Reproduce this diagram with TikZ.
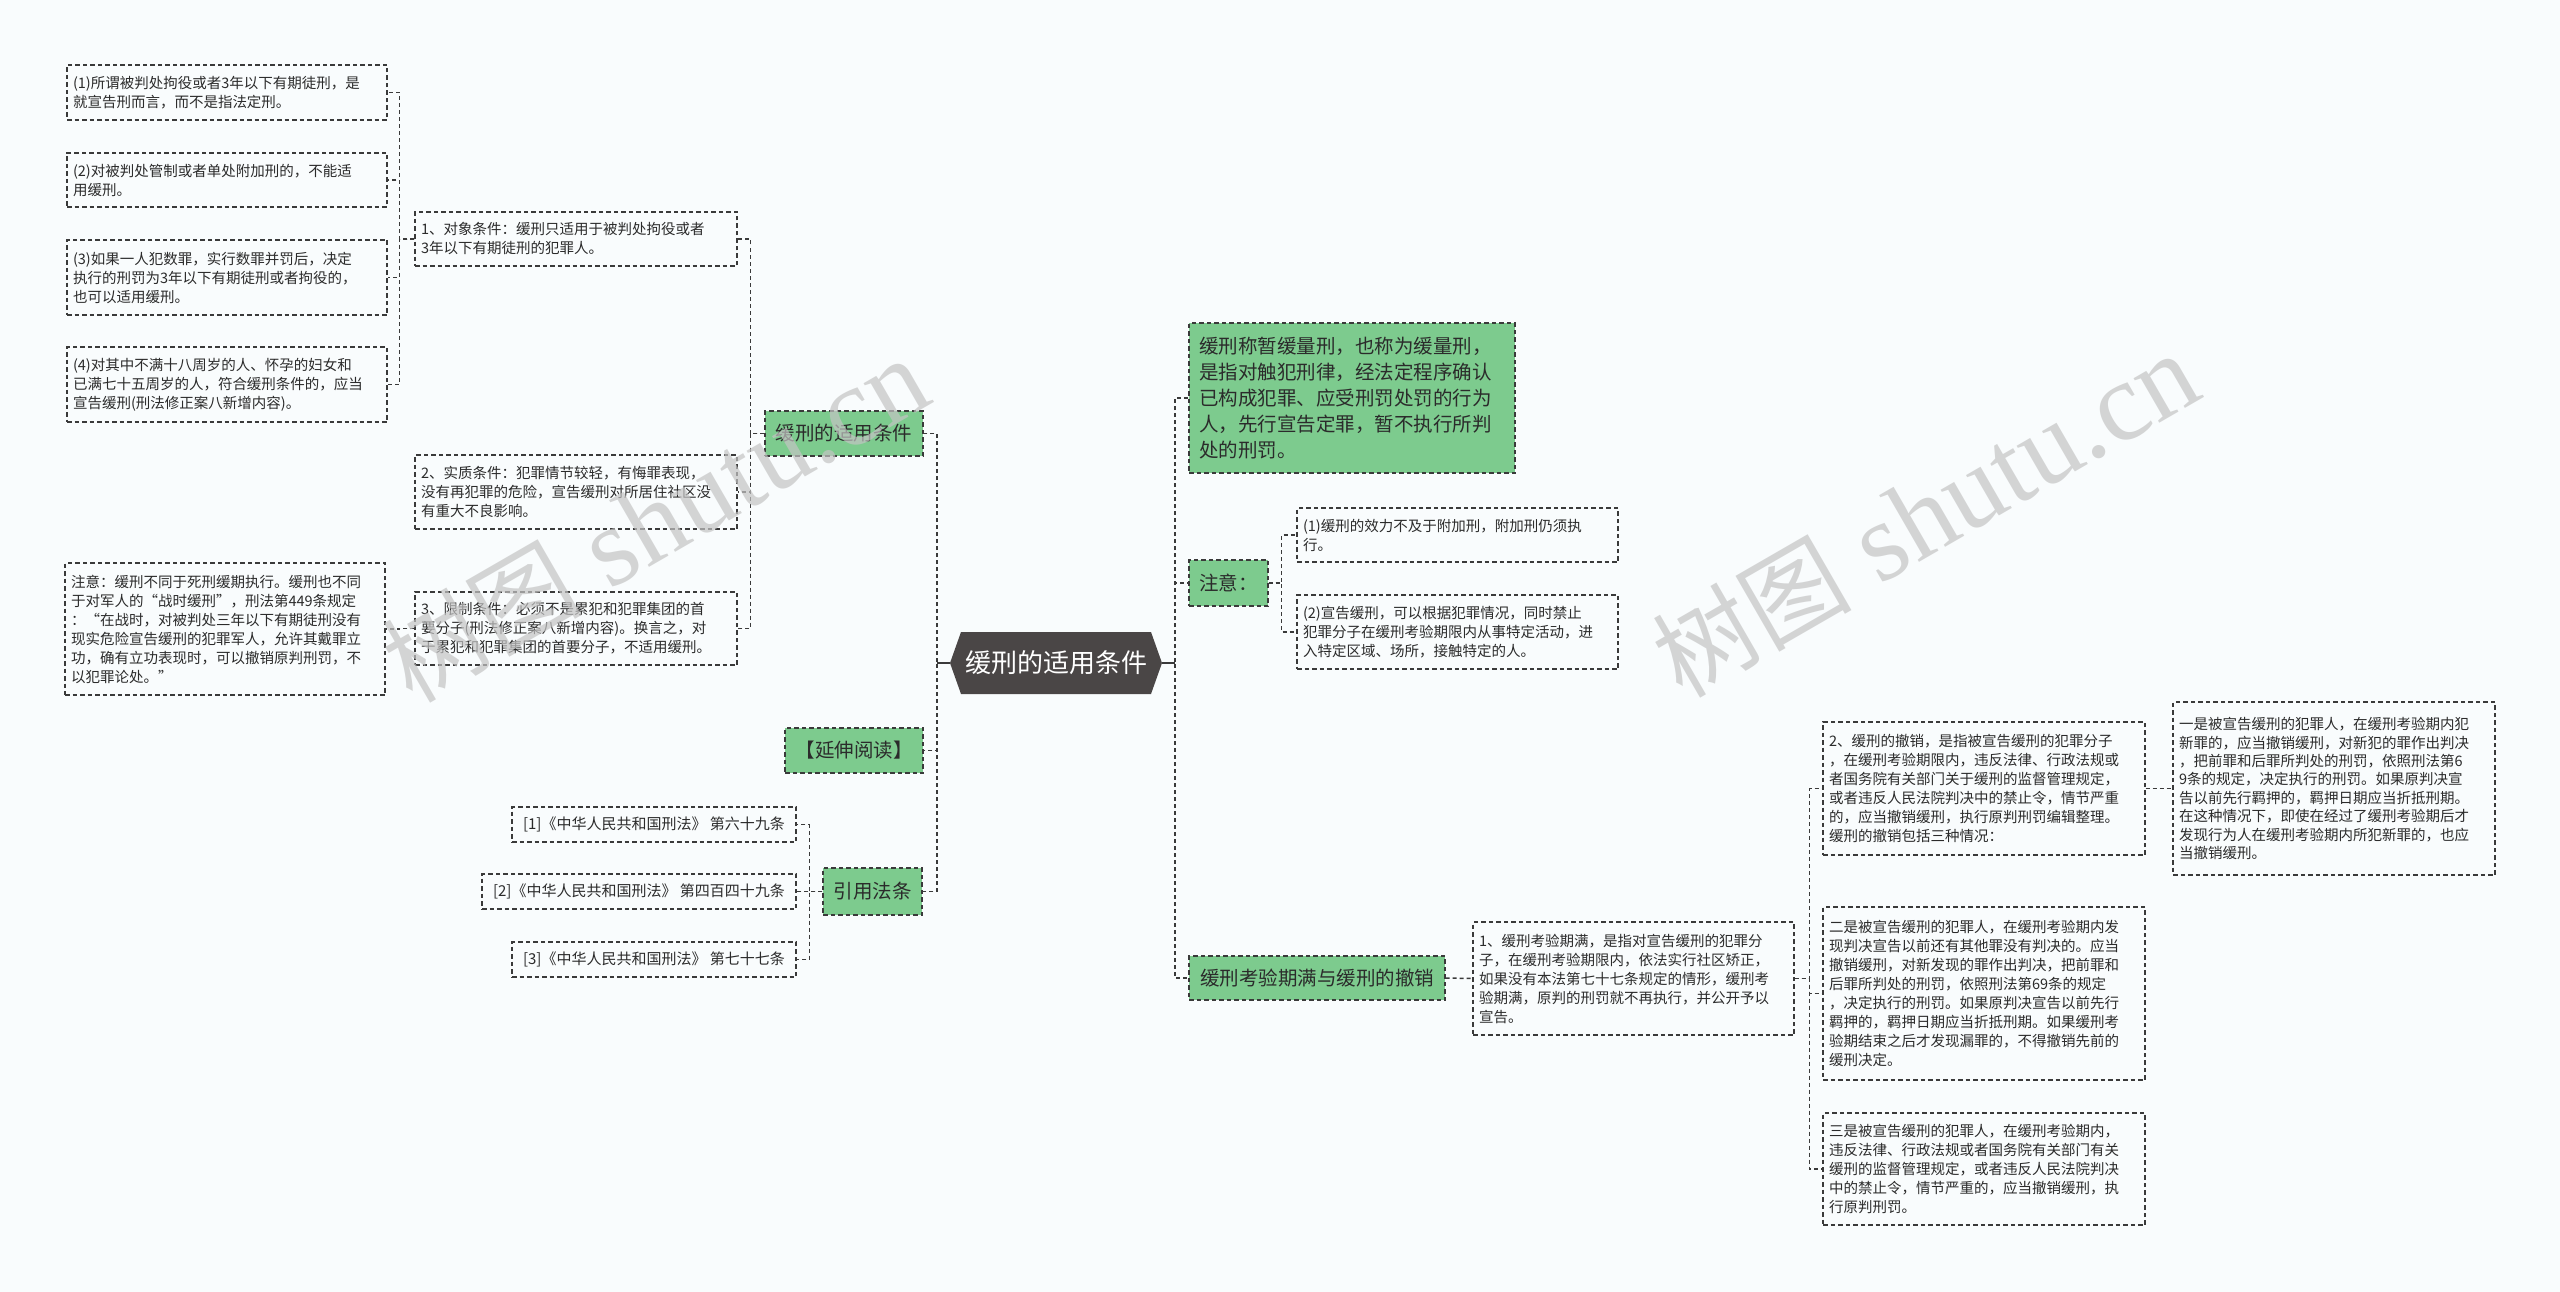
\documentclass[tikz,border=0pt]{standalone}
\usepackage{fontspec}
\newfontfamily\cjk{Noto Sans CJK SC}
\newfontfamily\wmserif{Liberation Serif}
\definecolor{bgc}{HTML}{F9FCFD}
\definecolor{grn}{HTML}{7DCB8E}
\definecolor{lnc}{HTML}{3A3A3A}
\definecolor{rootc}{HTML}{4A4646}
\definecolor{txt}{HTML}{2B2B2B}
\definecolor{wmc}{HTML}{C4C4C4}
\tikzset{
  conn/.style={draw=lnc, line width=1.5pt, dash pattern=on 4pt off 3pt},
  solidc/.style={draw=lnc, line width=1.5pt},
  box/.style={draw=lnc, line width=1.2pt, dash pattern=on 4.5pt off 3pt, rectangle,
    inner xsep=6pt, inner ysep=2pt, align=left, text=txt,
    font=\cjk\fontsize{14.5}{19}\selectfont},
  leaf/.style 2 args={box, text width=#1, minimum height=#2},
  refbox/.style 2 args={box, align=center, minimum width=#1, minimum height=#2,
    font=\cjk\fontsize{15}{19}\selectfont},
  gbox/.style 2 args={draw=lnc, fill=grn, line width=1.2pt, dash pattern=on 4.5pt off 3pt,
    rectangle, inner sep=2pt, align=center, text=txt, minimum width=#1, minimum height=#2,
    font=\cjk\fontsize{19.5}{25.8}\selectfont},
  rootnode/.style={rectangle, inner sep=0pt, minimum width=212pt, minimum height=62pt,
    text=white, font=\cjk\fontsize{26}{30}\selectfont},
  wmark/.style={rotate=30, text=wmc, opacity=0.7, inner sep=0pt}
}
\begin{document}
\begin{tikzpicture}[x=1pt, y=-1pt]
\useasboundingbox (0,0) rectangle (2560,1292);
\fill[bgc] (0,0) rectangle (2560,1292);

% root hexagon
\fill[rootc] (950,663) -- (961,632) -- (1151,632) -- (1162,663) -- (1151,694) -- (961,694) -- cycle;
\node[rootnode] (root) at (1056,663) {缓刑的适用条件};

% left first level
\node[gbox={158pt}{45pt}] (G1) at (844,433.5) {缓刑的适用条件};
\node[gbox={138pt}{45pt}] (G2) at (854,750.5) {【延伸阅读】};
\node[gbox={99pt}{47pt}] (G3) at (872.5,891.5) {引用法条};

% conditions
\node[leaf={310pt}{54pt}] (O1) at (576,239) {1、对象条件：缓刑只适用于被判处拘役或者\\3年以下有期徒刑的犯罪人。};
\node[leaf={310pt}{74pt}] (O2) at (576,492) {2、实质条件：犯罪情节较轻，有悔罪表现，\\没有再犯罪的危险，宣告缓刑对所居住社区没\\有重大不良影响。};
\node[leaf={310pt}{73pt}] (O3) at (576,628.5) {3、限制条件：必须不是累犯和犯罪集团的首\\要分子(刑法修正案八新增内容)。换言之，对\\于累犯和犯罪集团的首要分子，不适用缓刑。};

% leaves of object condition
\node[leaf={308pt}{55pt}] (L1) at (227,92.5) {(1)所谓被判处拘役或者3年以下有期徒刑，是\\就宣告刑而言，而不是指法定刑。};
\node[leaf={308pt}{54pt}] (L2) at (227,180) {(2)对被判处管制或者单处附加刑的，不能适\\用缓刑。};
\node[leaf={308pt}{75pt}] (L3) at (227,277.5) {(3)如果一人犯数罪，实行数罪并罚后，决定\\执行的刑罚为3年以下有期徒刑或者拘役的，\\也可以适用缓刑。};
\node[leaf={308pt}{75pt}] (L4) at (227,384.5) {(4)对其中不满十八周岁的人、怀孕的妇女和\\已满七十五周岁的人，符合缓刑条件的，应当\\宣告缓刑(刑法修正案八新增内容)。};

% note under restriction
\node[leaf={308pt}{132pt}] (NT) at (225,629) {注意：缓刑不同于死刑缓期执行。缓刑也不同\\于对军人的“战时缓刑”，刑法第449条规定\\：“在战时，对被判处三年以下有期徒刑没有\\现实危险宣告缓刑的犯罪军人，允许其戴罪立\\功，确有立功表现时，可以撤销原判刑罚，不\\以犯罪论处。”};

% references
\node[refbox={284pt}{35pt}] (R1) at (654,824.5) {[1]《中华人民共和国刑法》 第六十九条};
\node[refbox={314pt}{35pt}] (R2) at (639,891.5) {[2]《中华人民共和国刑法》 第四百四十九条};
\node[refbox={284pt}{35pt}] (R3) at (654,959.5) {[3]《中华人民共和国刑法》 第七十七条};

% right side
\node[gbox={326pt}{150pt}, align=left, text width=306pt, inner xsep=10pt] (D) at (1352,398) {缓刑称暂缓量刑，也称为缓量刑，\\是指对触犯刑律，经法定程序确认\\已构成犯罪、应受刑罚处罚的行为\\人，先行宣告定罪，暂不执行所判\\处的刑罚。};
\node[gbox={79pt}{46pt}] (Z) at (1228.5,583) {注意：};
\node[leaf={309pt}{54pt}] (N1) at (1457.5,535) {(1)缓刑的效力不及于附加刑，附加刑仍须执\\行。};
\node[leaf={309pt}{74pt}] (N2) at (1457.5,632) {(2)宣告缓刑，可以根据犯罪情况，同时禁止\\犯罪分子在缓刑考验期限内从事特定活动，进\\入特定区域、场所，接触特定的人。};

\node[gbox={256pt}{44pt}] (G4) at (1317,978) {缓刑考验期满与缓刑的撤销};
\node[leaf={309pt}{113pt}] (P1) at (1633.5,978.5) {1、缓刑考验期满，是指对宣告缓刑的犯罪分\\子，在缓刑考验期限内，依法实行社区矫正，\\如果没有本法第七十七条规定的情形，缓刑考\\验期满，原判的刑罚就不再执行，并公开予以\\宣告。};

\node[leaf={310pt}{133pt}] (Q2) at (1984,788.5) {2、缓刑的撤销，是指被宣告缓刑的犯罪分子\\，在缓刑考验期限内，违反法律、行政法规或\\者国务院有关部门关于缓刑的监督管理规定，\\或者违反人民法院判决中的禁止令，情节严重\\的，应当撤销缓刑，执行原判刑罚编辑整理。\\缓刑的撤销包括三种情况：};
\node[leaf={310pt}{173pt}] (Q3) at (1984,993.5) {二是被宣告缓刑的犯罪人，在缓刑考验期内发\\现判决宣告以前还有其他罪没有判决的。应当\\撤销缓刑，对新发现的罪作出判决，把前罪和\\后罪所判处的刑罚，依照刑法第69条的规定\\，决定执行的刑罚。如果原判决宣告以前先行\\羁押的，羁押日期应当折抵刑期。如果缓刑考\\验期结束之后才发现漏罪的，不得撤销先前的\\缓刑决定。};
\node[leaf={310pt}{112pt}] (Q4) at (1984,1169) {三是被宣告缓刑的犯罪人，在缓刑考验期内，\\违反法律、行政法规或者国务院有关部门有关\\缓刑的监督管理规定，或者违反人民法院判决\\中的禁止令，情节严重的，应当撤销缓刑，执\\行原判刑罚。};
\node[leaf={310pt}{173pt}, font=\cjk\fontsize{14.5}{18.4}\selectfont] (Q1) at (2334,788.5) {一是被宣告缓刑的犯罪人，在缓刑考验期内犯\\新罪的，应当撤销缓刑，对新犯的罪作出判决\\，把前罪和后罪所判处的刑罚，依照刑法第6\\9条的规定，决定执行的刑罚。如果原判决宣\\告以前先行羁押的，羁押日期应当折抵刑期。\\在这种情况下，即使在经过了缓刑考验期后才\\发现行为人在缓刑考验期内所犯新罪的，也应\\当撤销缓刑。};

% connectors from root
\draw[conn] (root.west) -- ++(-13,0) |- (G1.east);
\draw[conn] (root.west) -- ++(-13,0) |- (G2.east);
\draw[conn] (root.west) -- ++(-13,0) |- (G3.east);
\draw[conn] (root.east) -- ++(13,0) |- (D.west);
\draw[conn] (root.east) -- ++(13,0) |- (Z.west);
\draw[conn] (root.east) -- ++(13,0) |- (G4.west);
\draw[solidc] (root.west) -- ++(-13,0);
\draw[solidc] (root.east) -- ++(13,0);

% left subtree
\draw[conn] (G1.west) -- ++(-14,0) |- (O1.east);
\draw[conn] (G1.west) -- ++(-14,0) |- (O2.east);
\draw[conn] (G1.west) -- ++(-14,0) |- (O3.east);
\draw[conn] (O1.west) -- ++(-15,0) |- (L1.east);
\draw[conn] (O1.west) -- ++(-15,0) |- (L2.east);
\draw[conn] (O1.west) -- ++(-15,0) |- (L3.east);
\draw[conn] (O1.west) -- ++(-15,0) |- (L4.east);
\draw[conn] (O3.west) -- ++(-15,0) |- (NT.east);
\draw[conn] (G3.west) -- ++(-13,0) |- (R1.east);
\draw[conn] (G3.west) -- ++(-13,0) |- (R2.east);
\draw[conn] (G3.west) -- ++(-13,0) |- (R3.east);

% right subtree
\draw[conn] (Z.east) -- ++(13,0) |- (N1.west);
\draw[conn] (Z.east) -- ++(13,0) |- (N2.west);
\draw[conn] (G4.east) -- (P1.west);
\draw[conn] (P1.east) -- ++(15,0) |- (Q2.west);
\draw[conn] (P1.east) -- ++(15,0) |- (Q3.west);
\draw[conn] (P1.east) -- ++(15,0) |- (Q4.west);
\draw[conn] (Q2.east) -- (Q1.west);

% watermarks
\node[wmark] (wm1) at (655,520) {\cjk\fontsize{100}{110}\selectfont 树图\hspace{28pt}{\wmserif\fontsize{112}{120}\selectfont shutu.cn}};
\node[wmark] (wm2) at (1925,515) {\cjk\fontsize{100}{110}\selectfont 树图\hspace{28pt}{\wmserif\fontsize{112}{120}\selectfont shutu.cn}};
\end{tikzpicture}
\end{document}
